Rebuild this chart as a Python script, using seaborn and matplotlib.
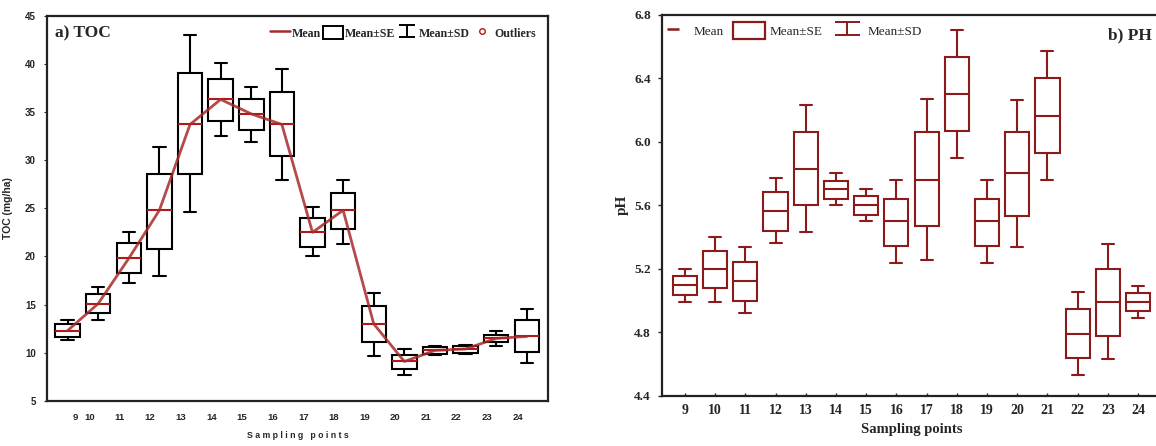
import numpy as np
import pandas as pd
import matplotlib
matplotlib.use("Agg")
import matplotlib.pyplot as plt
import seaborn as sns
from matplotlib.lines import Line2D
from matplotlib.patches import Rectangle

# ---------------- data ----------------
points = ["9", "10", "11", "12", "13", "14", "15", "16",
          "17", "18", "19", "20", "21", "22", "23", "24"]

toc_mean = [12.3, 15.1, 19.8, 24.8, 33.7, 36.3, 34.8, 33.7,
            22.5, 24.8, 13.0, 9.1, 10.25, 10.4, 11.5, 11.7]
toc_se_low = [11.6, 14.1, 18.3, 20.8, 28.6, 34.1, 33.1, 30.4,
              21.0, 22.8, 11.1, 8.3, 9.9, 10.0, 11.1, 10.1]
toc_se_high = [13.0, 16.1, 21.4, 28.6, 39.0, 38.4, 36.3, 37.1,
               24.0, 26.6, 14.9, 9.8, 10.6, 10.7, 11.9, 13.4]
toc_sd_low = [11.3, 13.4, 17.2, 18.0, 24.6, 32.5, 31.9, 27.9,
              20.0, 21.3, 9.7, 7.7, 9.8, 9.9, 10.7, 8.9]
toc_sd_high = [13.4, 16.8, 22.5, 31.4, 43.0, 40.1, 37.6, 39.5,
               25.1, 27.9, 16.2, 10.4, 10.7, 10.8, 12.3, 14.5]

ph_mean = [5.10, 5.20, 5.125, 5.565, 5.83, 5.70, 5.60, 5.50,
           5.76, 6.30, 5.50, 5.80, 6.16, 4.79, 4.99, 4.99]
ph_se_low = [5.035, 5.08, 5.00, 5.44, 5.60, 5.64, 5.54, 5.345,
             5.47, 6.07, 5.345, 5.53, 5.93, 4.64, 4.78, 4.935]
ph_se_high = [5.155, 5.31, 5.245, 5.685, 6.06, 5.75, 5.66, 5.64,
              6.06, 6.53, 5.64, 6.06, 6.40, 4.945, 5.197, 5.046]
ph_sd_low = [4.99, 4.99, 4.92, 5.36, 5.43, 5.60, 5.50, 5.235,
             5.255, 5.90, 5.235, 5.34, 5.76, 4.53, 4.635, 4.89]
ph_sd_high = [5.20, 5.40, 5.34, 5.77, 6.23, 5.80, 5.70, 5.76,
              6.27, 6.70, 5.76, 6.26, 6.57, 5.056, 5.356, 5.09]

toc_yticks = [5, 10, 15, 20, 25, 30, 35, 40, 45]
ph_yticks = [4.4, 4.8, 5.2, 5.6, 6.0, 6.4, 6.8]


def long_frame(sd_lo, se_lo, mean, se_hi, sd_hi):
    """Five values per point: quartiles = mean +- SE, extremes = mean +- SD."""
    rows = []
    for p, a, b, c, d, e in zip(points, sd_lo, se_lo, mean, se_hi, sd_hi):
        for v in (a, b, c, d, e):
            rows.append({"point": p, "value": v})
    return pd.DataFrame(rows)


toc_df = long_frame(toc_sd_low, toc_se_low, toc_mean, toc_se_high, toc_sd_high)
ph_df = long_frame(ph_sd_low, ph_se_low, ph_mean, ph_se_high, ph_sd_high)

# ---------------- style ----------------
sns.set_style("ticks")
plt.rcParams["font.family"] = ["Liberation Serif", "DejaVu Serif"]

RED_LINE = "#a82a2a"
RED_MEAN = "#b01818"
DARK_RED = "#8c1a1a"
SANS = ["Liberation Sans", "DejaVu Sans"]

fig = plt.figure(figsize=(11.56, 4.46), dpi=100)
ax1 = fig.add_axes([47 / 1156, 1 - 401 / 446, 501 / 1156, 385.4 / 446])
ax2 = fig.add_axes([662 / 1156, 1 - 396 / 446, 499 / 1156, 381.5 / 446])

# ---------------- panel a: TOC ----------------
sns.boxplot(data=toc_df, x="point", y="value", order=points, ax=ax1,
            whis=np.inf, width=0.8, color="white", linecolor="black",
            linewidth=1.5, medianprops=dict(color=RED_MEAN, linewidth=1.5))
sns.lineplot(x=points, y=toc_mean, ax=ax1, sort=False, color=RED_LINE,
             linewidth=2.0, alpha=0.85, zorder=5)

ax1.set_xlim(-0.67, 15.69)
ax1.set_ylim(5, 45)
ax1.set_yticks(toc_yticks)
ax1.set_yticklabels([str(t) for t in toc_yticks], family=SANS,
                    fontweight="bold", fontsize=7)
label_shift = np.r_[0.25, -0.27, np.full(len(points) - 2, -0.3)]
ax1.set_xticks(np.arange(len(points)) + label_shift)
ax1.set_xticklabels(points, family=SANS, fontweight="bold", fontsize=6.8)
ax1.tick_params(axis="x", length=0, pad=9)
ax1.tick_params(axis="y", length=2, width=0.8, pad=6)
for s in ax1.spines.values():
    s.set_visible(True)
    s.set_linewidth(1.6)
    s.set_color("#222222")
ax1.set_xlabel("S a m p l i n g   p o i n t s", family=SANS,
               fontweight="bold", fontsize=6.3, labelpad=6)
ax1.set_ylabel("TOC (mg/ha)", family=SANS, fontweight="bold", fontsize=7.5,
               labelpad=9)
ax1.text(0.016, 0.955, "a) TOC", transform=ax1.transAxes, ha="left",
         va="center", fontsize=12.5, fontweight="bold")

sd_h1 = ax1.errorbar([np.nan], [np.nan], yerr=[[1], [1]], fmt="none",
                     ecolor="black", elinewidth=1.4, capsize=6, capthick=1.4)
h1 = [Line2D([], [], color=RED_LINE, lw=1.8),
      Rectangle((0, 0), 1, 1, facecolor="white", edgecolor="black", lw=1.4),
      sd_h1,
      Line2D([], [], color=RED_MEAN, marker="o", markersize=4,
             markerfacecolor="white", linestyle="none")]
ax1.legend(h1, ["Mean", "Mean±SE", "Mean±SD", "Outliers"], ncol=4,
           loc="center right", bbox_to_anchor=(0.985, 0.955), frameon=False,
           prop=dict(weight="bold", size=8.6), handlelength=1.7,
           handleheight=1.3, handletextpad=0.15, columnspacing=0.15,
           borderaxespad=0)

# ---------------- panel b: pH ----------------
sns.boxplot(data=ph_df, x="point", y="value", order=points, ax=ax2,
            whis=np.inf, width=0.8, color="white", linecolor=DARK_RED,
            linewidth=1.5, medianprops=dict(color=DARK_RED, linewidth=1.5))

ax2.set_xlim(-0.76, 15.76)
ax2.set_ylim(4.4, 6.8)
ax2.set_yticks(ph_yticks)
ax2.set_yticklabels([f"{t:.1f}" for t in ph_yticks], fontweight="bold",
                    fontsize=9.5)
ax2.set_xticks(np.arange(len(points)))
ax2.set_xticklabels(points, fontweight="bold", fontsize=10)
ax2.tick_params(axis="x", direction="in", length=2, width=1, pad=6)
ax2.tick_params(axis="y", direction="out", length=3, width=1, pad=5)
for s in ax2.spines.values():
    s.set_visible(True)
    s.set_linewidth(1.6)
    s.set_color("#222222")
ax2.set_xlabel("Sampling points", fontweight="bold", fontsize=10.5,
               labelpad=4)
ax2.set_ylabel("pH", fontweight="bold", fontsize=11, labelpad=4)
ax2.text(0.894, 0.946, "b) PH", transform=ax2.transAxes, ha="left",
         va="center", fontsize=12.5, fontweight="bold")

sd_h2 = ax2.errorbar([np.nan], [np.nan], yerr=[[1], [1]], fmt="none",
                     ecolor=DARK_RED, elinewidth=1.4, capsize=9, capthick=1.4)
h2 = [Line2D([], [], color=DARK_RED, marker="_", markersize=8,
             markeredgewidth=1.8, linestyle="none"),
      Rectangle((0, 0), 1, 1, facecolor="white", edgecolor=DARK_RED, lw=1.6),
      sd_h2]
ax2.legend(h2, ["Mean", "Mean±SE", "Mean±SD"], ncol=3, loc="center left",
           bbox_to_anchor=(-0.02, 0.958), frameon=False,
           prop=dict(size=9.5), handlelength=2.4, handleheight=1.5,
           handletextpad=0.35, columnspacing=0.7, borderaxespad=0)

fig.savefig("out.png", dpi=100)
